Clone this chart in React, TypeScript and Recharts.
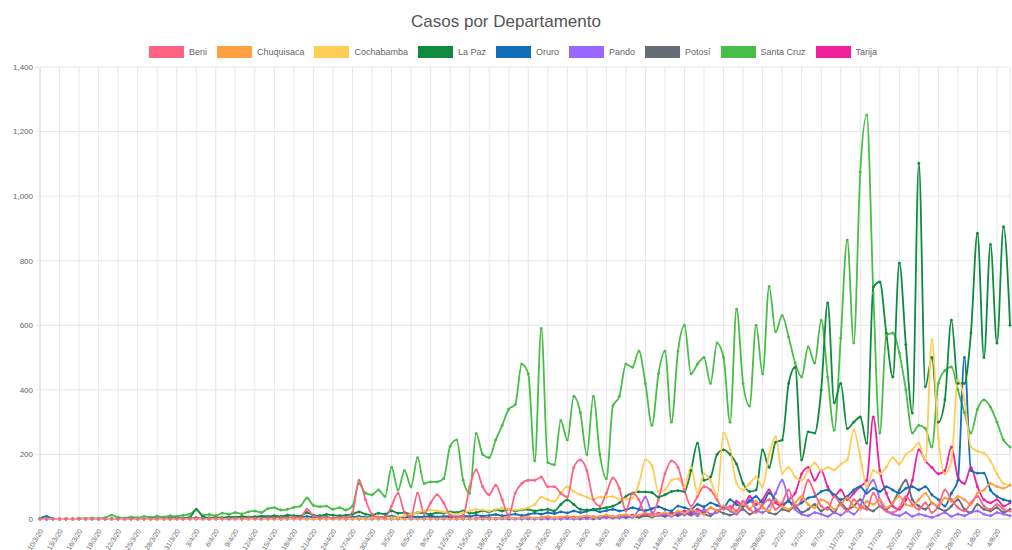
import React from 'react';
import { LineChart, Line, XAxis, YAxis, CartesianGrid } from 'recharts';

const DATES = [
  '10/3/20','11/3/20','12/3/20','13/3/20','14/3/20','15/3/20','16/3/20','17/3/20','18/3/20','19/3/20','20/3/20','21/3/20','22/3/20','23/3/20','24/3/20','25/3/20','26/3/20','27/3/20','28/3/20','29/3/20','30/3/20','31/3/20',
  '1/4/20','2/4/20','3/4/20','4/4/20','5/4/20','6/4/20','7/4/20','8/4/20','9/4/20','10/4/20','11/4/20','12/4/20','13/4/20','14/4/20','15/4/20','16/4/20','17/4/20','18/4/20','19/4/20','20/4/20','21/4/20','22/4/20','23/4/20','24/4/20','25/4/20','26/4/20','27/4/20','28/4/20','29/4/20','30/4/20',
  '1/5/20','2/5/20','3/5/20','4/5/20','5/5/20','6/5/20','7/5/20','8/5/20','9/5/20','10/5/20','11/5/20','12/5/20','13/5/20','14/5/20','15/5/20','16/5/20','17/5/20','18/5/20','19/5/20','20/5/20','21/5/20','22/5/20','23/5/20','24/5/20','25/5/20','26/5/20','27/5/20','28/5/20','29/5/20','30/5/20','31/5/20',
  '1/6/20','2/6/20','3/6/20','4/6/20','5/6/20','6/6/20','7/6/20','8/6/20','9/6/20','10/6/20','11/6/20','12/6/20','13/6/20','14/6/20','15/6/20','16/6/20','17/6/20','18/6/20','19/6/20','20/6/20','21/6/20','22/6/20','23/6/20','24/6/20','25/6/20','26/6/20','27/6/20','28/6/20','29/6/20','30/6/20',
  '1/7/20','2/7/20','3/7/20','4/7/20','5/7/20','6/7/20','7/7/20','8/7/20','9/7/20','10/7/20','11/7/20','12/7/20','13/7/20','14/7/20','15/7/20','16/7/20','17/7/20','18/7/20','19/7/20','20/7/20','21/7/20','22/7/20','23/7/20','24/7/20','25/7/20','26/7/20','27/7/20','28/7/20','29/7/20','30/7/20','31/7/20',
  '1/8/20','2/8/20','3/8/20','4/8/20','5/8/20','6/8/20',
];

const BENI = [
  0,0,0,0,0,0,0,1,0,0, 1,0,0,1,0,0,1,0,0,2, 0,1,0,2,3,1,0,2,1,0, 2,1,3,2,1,3,2,4,3,5,
  4,30,10,4,5,3,4,5,20,120, 60,15,6,5,40,80,20,8,80,18, 50,75,50,12,5,10,100,152,100,75,
  105,60,10,80,110,120,120,130,100,100, 80,68,160,183,150,60,40,80,127,95, 25,80,60,15,15,60,140,180,160,90,
  40,70,100,90,60,30,40,25,55,30, 20,45,60,30,50,90,40,60,120,80, 40,30,70,45,25,60,40,30,80,40,
  25,20,35,70,45,30,50,20,40,90, 60,35,25,50,70,40,30,45,30,25,
];
const CHUQUISACA = [
  0,0,0,0,0,0,0,0,0,0, 0,0,0,0,0,0,0,0,0,0, 0,0,0,0,0,0,0,0,0,0, 0,0,0,0,0,0,0,0,0,0,
  0,0,0,0,0,0,0,0,0,0, 0,1,0,0,1,0,0,1,0,1, 0,1,2,0,1,2,1,0,2,1,
  2,3,5,2,4,6,3,5,8,4, 6,9,5,7,10,6,8,12,7,10, 14,9,12,18,10,15,20,12,25,18,
  30,22,15,35,25,40,30,20,45,30, 55,35,25,60,40,30,50,70,45,35, 60,50,30,45,65,40,30,55,45,60,
  35,50,70,45,40,60,80,50,40,65, 55,70,60,45,80,90,110,100,95,105,
];
const COCHABAMBA = [
  0,0,0,0,0,0,0,0,0,0, 0,0,0,0,0,0,0,0,0,0, 0,0,0,0,0,0,0,0,0,0, 0,0,0,0,0,0,0,0,0,0,
  0,0,0,0,0,0,1,2,1,3, 2,4,3,5,4,6,10,15,20,25, 28,25,22,18,15,20,25,30,28,25,
  30,34,30,28,30,35,45,68,60,55, 80,100,85,75,68,60,68,68,70,60, 62,65,110,183,165,85,90,120,125,100,
  160,80,140,120,70,266,214,111,90,110, 130,100,200,254,142,160,130,120,150,173, 150,160,152,170,183,276,192,100,150,140,
  161,190,170,200,214,235,180,555,250,140, 180,430,369,223,210,204,180,140,110,105,
];
const LA_PAZ = [
  0,0,0,0,0,0,1,0,1,0, 0,1,0,1,2,1,0,2,1,2, 3,2,3,5,30,8,3,5,4,6, 5,8,6,7,9,8,10,8,12,10,
  9,20,12,10,14,12,10,12,15,22, 15,12,18,15,25,18,20,15,20,18, 15,20,18,22,20,25,18,20,25,22,
  28,25,30,25,28,30,25,28,30,25, 45,59,45,30,28,30,32,35,40,50, 70,80,84,84,82,68,75,85,88,85,
  150,235,120,130,200,214,200,170,110,85, 90,214,160,238,245,420,470,183,270,266, 400,669,360,420,280,300,316,235,718,734,
  576,440,793,540,328,1102,410,500,300,369, 616,420,420,576,885,500,850,545,905,600,
];
const ORURO = [
  2,8,1,0,1,0,0,1,0,0, 1,0,2,0,1,0,0,1,2,0, 1,3,1,2,4,2,3,1,2,3, 5,2,3,4,2,5,3,4,6,3,
  5,8,5,4,6,3,5,4,6,8, 5,6,4,7,9,6,5,8,6,7, 10,6,8,9,7,10,8,12,9,11,
  14,10,12,15,11,14,18,15,20,17, 22,19,25,20,24,28,22,26,30,25, 28,35,30,26,32,38,30,25,40,35,
  30,45,38,50,42,35,60,45,40,55, 70,50,80,60,45,55,40,50,65,70, 85,90,75,60,70,90,100,80,95,85,
  100,90,80,95,100,90,100,75,60,40, 80,120,500,150,142,142,90,70,60,55,
];
const PANDO = [
  0,0,0,0,0,0,0,0,0,0, 0,0,0,0,0,0,0,0,0,0, 0,0,0,0,0,0,0,0,0,0, 0,0,0,0,0,0,0,0,0,0,
  0,0,0,0,0,0,0,0,0,0, 0,0,0,0,0,0,0,0,0,0, 0,0,0,0,0,0,0,0,0,0,
  0,0,0,0,0,0,0,0,0,0, 0,2,0,3,1,5,2,4,8,3, 10,5,30,68,20,10,15,8,20,12,
  25,10,30,15,20,35,25,15,40,60, 30,20,40,80,120,60,30,15,10,20, 15,8,20,12,25,15,40,90,120,60,
  25,15,10,20,8,15,10,5,12,20, 8,15,10,20,25,15,10,20,15,10,
];
const POTOSI = [
  0,0,0,0,0,0,0,0,0,0, 0,0,0,0,0,0,0,0,0,0, 0,0,0,0,0,0,0,0,0,0, 0,0,0,0,0,0,0,0,0,0,
  0,0,0,0,0,0,0,0,0,0, 0,0,0,1,0,0,0,0,1,0, 0,0,1,0,0,0,1,0,0,0,
  0,1,0,0,0,1,0,0,1,0, 0,1,0,0,1,0,2,5,3,6, 4,8,5,10,6,12,8,15,10,18,
  12,20,15,10,25,18,12,20,30,15, 25,35,20,15,30,25,40,20,30,45, 25,35,20,50,30,40,60,35,25,40,
  30,50,90,120,60,40,30,50,35,25, 40,60,30,20,45,30,25,35,20,30,
];
const SANTA_CRUZ = [
  0,1,0,0,1,0,2,1,3,2, 4,12,5,3,6,4,8,5,9,6, 10,8,12,15,28,12,14,10,18,15, 20,16,22,25,20,32,35,28,30,36,
  40,65,42,38,40,30,35,28,40,110, 80,75,90,70,160,90,150,100,190,110, 115,115,125,225,245,120,80,265,200,190,
  245,290,340,355,480,450,180,590,175,168, 305,245,380,330,200,380,200,125,350,380, 480,470,520,420,290,450,520,300,520,600,
  450,480,500,420,545,500,300,650,420,350, 600,450,720,580,630,564,483,440,533,483, 616,440,275,560,864,545,1075,1251,700,266,
  570,576,514,400,266,290,280,223,420,460, 471,400,330,266,340,369,347,300,245,223,
];
const TARIJA = [
  0,0,0,0,0,0,0,0,0,0, 0,0,0,0,0,0,0,0,0,0, 0,0,0,0,0,0,0,0,0,1, 0,0,1,0,0,1,0,0,1,0,
  1,0,2,1,0,1,2,0,1,2, 1,3,1,2,0,2,3,1,2,1, 3,2,1,4,2,3,1,2,4,3,
  2,4,3,1,5,3,2,4,6,3, 5,4,6,3,5,7,5,8,4,10, 6,12,8,15,10,18,12,20,15,25,
  18,30,20,35,25,40,30,55,40,70, 45,60,90,50,40,60,80,140,160,120, 150,100,70,90,60,80,100,120,316,150,
  80,40,30,60,120,214,180,160,140,150, 223,130,110,160,100,60,50,60,40,50,
];

const SERIES = [
  { name: 'Beni', color: '#ff6384', values: BENI },
  { name: 'Chuquisaca', color: '#ff9f40', values: CHUQUISACA },
  { name: 'Cochabamba', color: '#ffcd56', values: COCHABAMBA },
  { name: 'La Paz', color: '#0f8a3e', values: LA_PAZ },
  { name: 'Oruro', color: '#1170b5', values: ORURO },
  { name: 'Pando', color: '#9966ff', values: PANDO },
  { name: 'Potosí', color: '#656c76', values: POTOSI },
  { name: 'Santa Cruz', color: '#48bd48', values: SANTA_CRUZ },
  { name: 'Tarija', color: '#f0209c', values: TARIJA },
];

const Y_TICKS = [0, 200, 400, 600, 800, 1000, 1200, 1400];

const rows = DATES.map((d, i) => {
  const r: Record<string, string | number> = { date: d };
  SERIES.forEach((s) => { r[s.name] = s.values[i]; });
  return r;
});

const FONT = '"Liberation Sans", Arial, Helvetica, sans-serif';

const XTick = (props: any) => {
  const { x, y, payload } = props;
  return (
    <g transform={`translate(${x + 2},${y + 3})`}>
      <text transform="rotate(-58)" textAnchor="end" dominantBaseline="middle" fontSize={7} fill="#666" fontFamily={FONT}>
        {payload.value}
      </text>
    </g>
  );
};

export default function App() {
  return (
    <div style={{ position: 'fixed', left: 0, top: 0, width: 1012, height: 550, background: '#fff', fontFamily: FONT }}>
      <div style={{ position: 'absolute', top: 12, left: 0, width: 1012, textAlign: 'center', fontSize: 17, color: '#555' }}>
        Casos por Departamento
      </div>
      <div style={{ position: 'absolute', top: 46, left: 12, width: 1012, display: 'flex', justifyContent: 'center', alignItems: 'center' }}>
        {SERIES.map((s) => (
          <div key={s.name} style={{ display: 'flex', alignItems: 'center', marginRight: 10 }}>
            <div style={{ width: 35, height: 12, background: s.color, marginRight: 5 }} />
            <span style={{ fontSize: 9, color: '#666' }}>{s.name}</span>
          </div>
        ))}
      </div>
      <LineChart width={1012} height={550} data={rows} margin={{ top: 67, right: 2, bottom: 0, left: 0 }}>
        <CartesianGrid stroke="#e6e6e6" />
        <XAxis
          dataKey="date"
          interval={2}
          height={31}
          tick={<XTick />}
          tickLine={false}
          axisLine={{ stroke: '#dcdcdc' }}
        />
        <YAxis
          width={40}
          domain={[0, 1400]}
          ticks={Y_TICKS}
          interval={0}
          tickFormatter={(v: number) => v.toLocaleString('en-US')}
          tick={{ fontSize: 8, fill: '#666', fontFamily: FONT }}
          tickLine={{ stroke: '#e6e6e6' }}
          tickSize={5}
          tickMargin={2}
          axisLine={{ stroke: '#dcdcdc' }}
        />
        {[...SERIES].reverse().map((s) => (
          <Line
            key={s.name}
            type="monotone"
            dataKey={s.name}
            stroke={s.color}
            strokeWidth={1.8}
            dot={{ r: 1.2, fill: s.color, stroke: s.color, strokeWidth: 0.5 }}
            isAnimationActive={false}
          />
        ))}
      </LineChart>
    </div>
  );
}
